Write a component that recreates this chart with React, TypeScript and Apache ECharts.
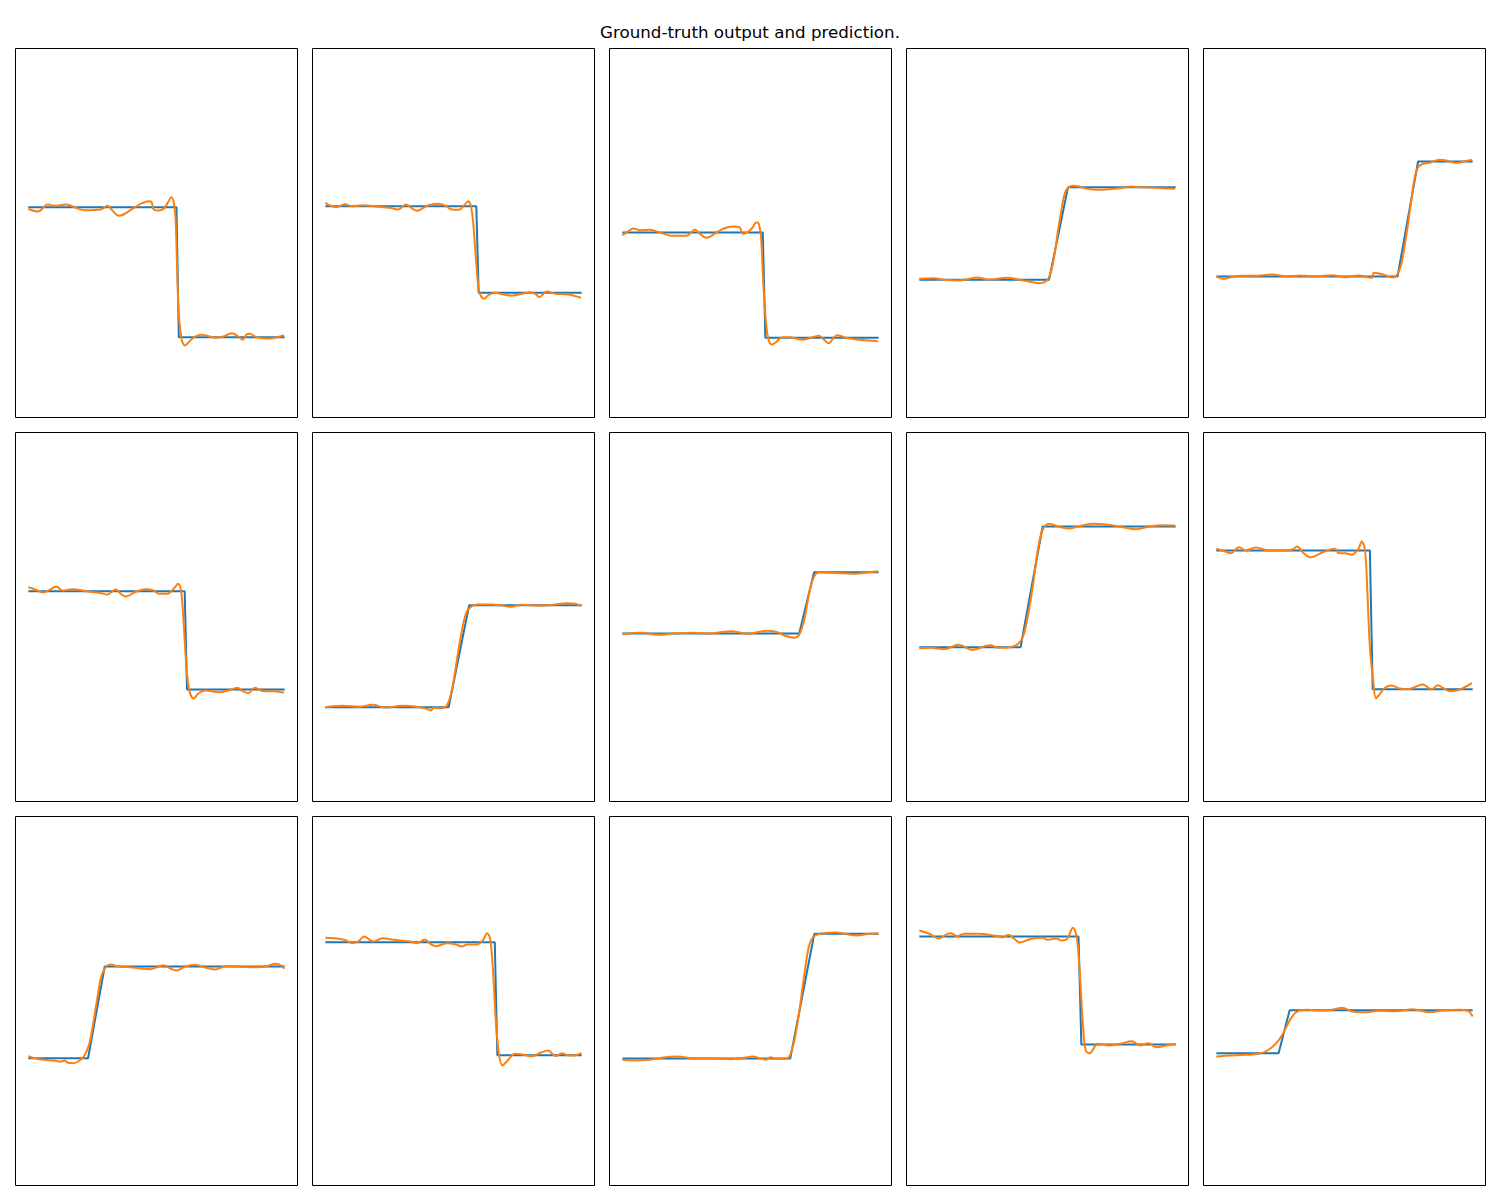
import React, { useEffect, useRef } from "react";
import * as echarts from "echarts";

const TITLE = "Ground-truth output and prediction.";
const X_MIN = -5;
const X_MAX = 105;
const Y_MIN = -1.845;
const Y_MAX = 1.845;

// Ground truth (blue) and prediction (orange), one pair per panel, row by row.
const truth01 = [[0, 0.258], [57.8, 0.258], [58.7, -1.042], [100, -1.042]];
const pred01 = [[0, 0.24], [3.7, 0.215], [7.6, 0.285], [10.2, 0.272], [14.7, 0.285], [19.3, 0.245], [21.8, 0.228], [28.3, 0.235], [30.9, 0.272], [32.8, 0.225], [35.4, 0.172], [41.2, 0.252], [44.4, 0.298], [47.0, 0.318], [48.1, 0.308], [49.0, 0.232], [50.9, 0.225], [52.8, 0.242], [54.5, 0.308], [55.8, 0.358], [56.7, 0.308], [57.4, 0.158], [58.0, -0.308], [58.7, -0.808], [59.9, -1.075], [61.2, -1.125], [62.5, -1.092], [65.1, -1.035], [67.7, -1.018], [72.9, -1.048], [76.1, -1.035], [79.3, -1.002], [81.9, -1.035], [83.6, -1.068], [85.1, -1.015], [86.4, -1.008], [89.0, -1.042], [93.5, -1.055], [99.7, -1.022]];

const truth02 = [[0, 0.268], [58.9, 0.268], [59.8, -0.598], [100, -0.598]];
const pred02 = [[0, 0.302], [1.8, 0.275], [4.4, 0.258], [7.6, 0.288], [10.2, 0.268], [14.7, 0.278], [19.9, 0.265], [25.1, 0.252], [28.3, 0.235], [31.5, 0.285], [33.5, 0.252], [35.7, 0.222], [39.9, 0.275], [43.8, 0.292], [47.0, 0.272], [48.9, 0.238], [52.2, 0.232], [54.1, 0.275], [55.7, 0.318], [56.7, 0.275], [57.6, 0.125], [58.7, -0.242], [59.7, -0.542], [60.6, -0.625], [61.9, -0.658], [63.8, -0.618], [66.4, -0.598], [69.6, -0.615], [72.9, -0.625], [76.7, -0.608], [80.0, -0.592], [81.9, -0.608], [83.5, -0.642], [86.4, -0.585], [89.7, -0.608], [94.8, -0.615], [99.7, -0.648]];

const truth03 = [[0, 0.005], [54.8, 0.005], [55.8, -1.048], [100, -1.048]];
const pred03 = [[0, -0.022], [1.8, 0.008], [4.4, 0.045], [7.0, 0.028], [10.9, 0.032], [14.7, 0.005], [19.3, -0.028], [25.1, -0.028], [27.0, 0.008], [28.3, 0.035], [30.2, -0.008], [32.8, -0.048], [36.0, -0.008], [39.3, 0.042], [43.2, 0.065], [45.7, 0.058], [47.0, -0.008], [48.9, 0.008], [50.9, 0.058], [52.2, 0.105], [53.1, 0.098], [54.1, -0.042], [55.0, -0.508], [56.1, -0.908], [57.1, -1.075], [58.4, -1.115], [59.9, -1.092], [62.5, -1.042], [65.1, -1.042], [70.3, -1.068], [74.2, -1.042], [76.7, -1.028], [78.7, -1.068], [80.6, -1.102], [82.6, -1.042], [83.9, -1.022], [87.1, -1.048], [92.2, -1.068], [99.7, -1.082]];

const truth04 = [[0, -0.468], [50.6, -0.468], [58.0, 0.458], [100, 0.458]];
const pred04 = [[0, -0.458], [5.7, -0.452], [9.6, -0.468], [14.7, -0.475], [18.6, -0.462], [22.5, -0.445], [27.0, -0.465], [34.1, -0.448], [39.3, -0.468], [43.2, -0.488], [47.0, -0.502], [48.9, -0.492], [50.3, -0.458], [51.5, -0.375], [52.8, -0.208], [54.1, 0.025], [55.4, 0.225], [56.7, 0.392], [58.0, 0.452], [59.9, 0.472], [61.9, 0.468], [65.1, 0.445], [69.0, 0.432], [72.9, 0.435], [78.0, 0.448], [82.6, 0.465], [87.1, 0.458], [92.2, 0.452], [99.7, 0.442]];

const truth05 = [[0, -0.435], [70.7, -0.435], [78.7, 0.715], [100, 0.715]];
const pred05 = [[0, -0.435], [2.5, -0.458], [5.7, -0.442], [9.6, -0.428], [14.7, -0.428], [21.8, -0.415], [27.6, -0.435], [32.8, -0.425], [38.6, -0.435], [45.1, -0.422], [50.3, -0.442], [55.4, -0.425], [60.6, -0.448], [61.5, -0.398], [65.1, -0.415], [68.7, -0.445], [70.5, -0.418], [72.2, -0.308], [74.2, -0.008], [75.7, 0.258], [77.4, 0.558], [78.7, 0.658], [80.6, 0.692], [83.2, 0.702], [87.1, 0.732], [89.7, 0.725], [93.5, 0.702], [96.8, 0.715], [99.7, 0.732]];

const truth06 = [[0, 0.258], [61.0, 0.258], [61.9, -0.725], [100, -0.725]];
const pred06 = [[0, 0.298], [2.5, 0.278], [5.7, 0.245], [8.3, 0.272], [10.9, 0.305], [13.4, 0.265], [17.3, 0.278], [22.5, 0.258], [27.6, 0.242], [30.9, 0.225], [34.1, 0.275], [36.0, 0.232], [38.0, 0.205], [41.9, 0.252], [45.7, 0.278], [48.9, 0.265], [50.9, 0.232], [54.1, 0.232], [56.7, 0.282], [58.4, 0.332], [59.6, 0.258], [60.6, -0.068], [61.6, -0.468], [62.8, -0.735], [64.5, -0.815], [66.4, -0.762], [69.0, -0.735], [74.2, -0.752], [78.0, -0.735], [81.7, -0.708], [83.2, -0.735], [85.8, -0.762], [88.4, -0.708], [91.6, -0.742], [96.1, -0.742], [99.7, -0.758]];

const truth07 = [[0, -0.902], [48.1, -0.902], [56.1, 0.118], [100, 0.118]];
const pred07 = [[0, -0.902], [7.0, -0.888], [13.4, -0.898], [18.6, -0.878], [23.1, -0.905], [30.2, -0.888], [36.7, -0.902], [39.9, -0.922], [41.2, -0.935], [42.1, -0.908], [45.1, -0.912], [47.0, -0.895], [48.3, -0.835], [49.6, -0.702], [51.5, -0.402], [52.8, -0.202], [54.1, -0.035], [55.4, 0.065], [57.4, 0.112], [59.9, 0.125], [65.1, 0.125], [69.0, 0.115], [72.2, 0.102], [76.7, 0.122], [84.5, 0.112], [89.7, 0.125], [94.2, 0.138], [97.4, 0.132], [99.7, 0.112]];

const truth08 = [[0, -0.165], [69.0, -0.165], [74.8, 0.448], [100, 0.448]];
const pred08 = [[0, -0.172], [7.0, -0.158], [14.1, -0.178], [21.2, -0.162], [27.6, -0.158], [34.1, -0.165], [42.5, -0.142], [49.0, -0.168], [56.1, -0.138], [59.9, -0.148], [63.2, -0.185], [67.1, -0.208], [69.0, -0.175], [70.9, -0.035], [72.6, 0.198], [74.4, 0.382], [76.7, 0.448], [80.6, 0.442], [85.8, 0.438], [91.0, 0.432], [95.5, 0.445], [99.7, 0.458]];

const truth09 = [[0, -0.302], [39.5, -0.302], [48.1, 0.905], [100, 0.905]];
const pred09 = [[0, -0.312], [4.4, -0.308], [9.6, -0.322], [15.4, -0.278], [20.6, -0.328], [27.6, -0.282], [30.9, -0.308], [35.4, -0.302], [38.6, -0.268], [40.6, -0.185], [42.5, 0.032], [44.4, 0.332], [46.4, 0.698], [48.3, 0.882], [50.9, 0.932], [54.1, 0.905], [58.0, 0.885], [62.5, 0.908], [67.7, 0.932], [72.9, 0.925], [79.3, 0.898], [84.5, 0.878], [89.7, 0.905], [94.8, 0.918], [99.7, 0.915]];

const truth10 = [[0, 0.665], [59.9, 0.665], [61.0, -0.722], [100, -0.722]];
const pred10 = [[0, 0.682], [2.5, 0.665], [5.7, 0.638], [8.9, 0.698], [11.5, 0.665], [15.4, 0.695], [20.5, 0.665], [25.1, 0.665], [29.6, 0.675], [31.5, 0.705], [34.1, 0.638], [36.7, 0.598], [41.9, 0.652], [46.4, 0.682], [47.7, 0.638], [50.3, 0.638], [52.8, 0.622], [55.4, 0.682], [56.7, 0.755], [58.0, 0.665], [58.9, 0.265], [59.9, -0.302], [61.2, -0.635], [62.3, -0.812], [63.8, -0.768], [65.8, -0.708], [68.3, -0.685], [71.6, -0.715], [74.8, -0.722], [78.0, -0.695], [80.6, -0.675], [83.9, -0.725], [86.4, -0.682], [88.4, -0.708], [91.0, -0.742], [94.8, -0.728], [99.7, -0.662]];

const truth11 = [[0, -0.572], [23.3, -0.572], [29.8, 0.345], [100, 0.345]];
const pred11 = [[0, -0.552], [2.5, -0.572], [6.1, -0.588], [9.7, -0.595], [12.6, -0.605], [14.3, -0.595], [15.4, -0.618], [17.6, -0.622], [20.0, -0.595], [21.9, -0.545], [23.8, -0.428], [25.5, -0.195], [27.2, 0.072], [28.6, 0.255], [30.5, 0.348], [32.3, 0.365], [34.8, 0.345], [39.8, 0.338], [43.4, 0.328], [47.7, 0.318], [52.7, 0.358], [55.6, 0.322], [57.8, 0.305], [60.6, 0.338], [65.0, 0.362], [68.5, 0.338], [72.8, 0.315], [77.1, 0.348], [82.9, 0.342], [88.6, 0.338], [92.9, 0.348], [96.5, 0.372], [98.6, 0.355], [99.8, 0.322]];

const truth12 = [[0, 0.588], [66.1, 0.588], [67.1, -0.542], [100, -0.542]];
const pred12 = [[0, 0.632], [3.7, 0.628], [7.3, 0.612], [10.9, 0.578], [13.0, 0.598], [15.2, 0.645], [17.3, 0.612], [18.7, 0.595], [22.3, 0.628], [26.6, 0.612], [32.4, 0.598], [35.9, 0.578], [38.8, 0.615], [41.0, 0.572], [43.1, 0.548], [47.4, 0.578], [51.0, 0.565], [53.2, 0.545], [55.3, 0.565], [58.9, 0.565], [61.4, 0.605], [63.1, 0.678], [64.3, 0.622], [65.4, 0.305], [66.5, -0.195], [67.7, -0.528], [69.1, -0.645], [71.1, -0.595], [74.0, -0.528], [76.8, -0.535], [80.4, -0.552], [84.0, -0.518], [86.9, -0.495], [89.8, -0.552], [92.3, -0.522], [94.8, -0.545], [97.6, -0.542], [100, -0.522]];

const truth13 = [[0, -0.575], [65.5, -0.575], [74.9, 0.672], [100, 0.672]];
const pred13 = [[0, -0.588], [4.1, -0.595], [10.6, -0.588], [16.0, -0.565], [21.5, -0.555], [28.0, -0.575], [34.5, -0.575], [42.2, -0.582], [47.6, -0.568], [50.9, -0.555], [54.2, -0.578], [56.3, -0.585], [57.9, -0.562], [59.6, -0.578], [64.0, -0.578], [66.1, -0.495], [68.3, -0.228], [70.5, 0.172], [72.7, 0.538], [74.4, 0.638], [77.0, 0.672], [83.6, 0.685], [86.8, 0.672], [91.2, 0.655], [96.6, 0.672], [100, 0.675]];

const truth14 = [[0, 0.645], [62.1, 0.645], [63.2, -0.435], [100, -0.435]];
const pred14 = [[0, 0.705], [3.9, 0.672], [7.6, 0.625], [10.9, 0.672], [12.4, 0.678], [14.8, 0.645], [17.4, 0.672], [22.9, 0.672], [30.5, 0.648], [32.7, 0.638], [34.9, 0.662], [37.0, 0.622], [39.2, 0.585], [43.1, 0.618], [47.9, 0.632], [50.1, 0.612], [53.4, 0.625], [55.6, 0.605], [57.7, 0.622], [59.9, 0.732], [61.4, 0.638], [62.7, 0.238], [63.8, -0.228], [64.9, -0.495], [66.4, -0.522], [69.7, -0.428], [74.1, -0.445], [78.4, -0.428], [82.8, -0.402], [86.1, -0.445], [89.3, -0.422], [92.6, -0.462], [96.9, -0.442], [100, -0.428]];

const truth15 = [[0, -0.522], [24.3, -0.522], [28.6, -0.092], [100, -0.092]];
const pred15 = [[0, -0.555], [4.6, -0.545], [11.2, -0.538], [16.6, -0.528], [19.9, -0.495], [23.2, -0.428], [26.0, -0.328], [28.6, -0.195], [31.2, -0.112], [35.2, -0.088], [41.7, -0.095], [46.1, -0.082], [49.3, -0.068], [52.6, -0.102], [58.1, -0.112], [63.5, -0.098], [70.0, -0.102], [76.6, -0.082], [83.1, -0.112], [88.5, -0.095], [95.1, -0.088], [98.4, -0.102], [100, -0.155]];

const TRUTHS = [truth01, truth02, truth03, truth04, truth05, truth06, truth07, truth08, truth09, truth10, truth11, truth12, truth13, truth14, truth15];
const PREDS = [pred01, pred02, pred03, pred04, pred05, pred06, pred07, pred08, pred09, pred10, pred11, pred12, pred13, pred14, pred15];

const COL_LEFT = [15.5, 312.5, 609.5, 906.5, 1203.5];
const ROW_TOP = [48.5, 432.5, 816.5];
const PANEL_W = 282;
const PANEL_H = 369;

export default function App() {
  const ref = useRef<HTMLDivElement | null>(null);

  useEffect(() => {
    document.body.style.margin = "0";
    if (!ref.current) return;
    const chart = echarts.init(ref.current, undefined, { renderer: "svg" });

    const grids: any[] = [];
    const xAxes: any[] = [];
    const yAxes: any[] = [];
    const series: any[] = [];

    TRUTHS.forEach((truth, i) => {
      const row = Math.floor(i / 5);
      const col = i % 5;
      grids.push({
        left: COL_LEFT[col],
        top: ROW_TOP[row],
        width: PANEL_W,
        height: PANEL_H,
        show: true,
        borderColor: "#000000",
        borderWidth: 1,
        backgroundColor: "#ffffff",
        containLabel: false,
      });
      const hidden = {
        axisLine: { show: false },
        axisTick: { show: false },
        axisLabel: { show: false },
        splitLine: { show: false },
      };
      xAxes.push({ type: "value", gridIndex: i, min: X_MIN, max: X_MAX, ...hidden });
      yAxes.push({ type: "value", gridIndex: i, min: Y_MIN, max: Y_MAX, ...hidden });
      series.push({
        type: "line",
        xAxisIndex: i,
        yAxisIndex: i,
        data: truth,
        showSymbol: false,
        symbol: "none",
        lineStyle: { color: "#1f77b4", width: 2 },
        z: 2,
      });
      series.push({
        type: "line",
        xAxisIndex: i,
        yAxisIndex: i,
        data: PREDS[i],
        showSymbol: false,
        symbol: "none",
        smooth: 0.35,
        lineStyle: { color: "#ff7f0e", width: 2 },
        z: 3,
      });
    });

    chart.setOption({
      animation: false,
      backgroundColor: "#ffffff",
      title: {
        text: TITLE,
        left: "center",
        top: 23,
        padding: 0,
        textStyle: {
          fontFamily: "DejaVu Sans",
          fontSize: 16.7,
          fontWeight: "normal",
          color: "#000000",
        },
      },
      grid: grids,
      xAxis: xAxes,
      yAxis: yAxes,
      series,
    });

    return () => chart.dispose();
  }, []);

  return <div ref={ref} style={{ width: 1500, height: 1200 }} />;
}
